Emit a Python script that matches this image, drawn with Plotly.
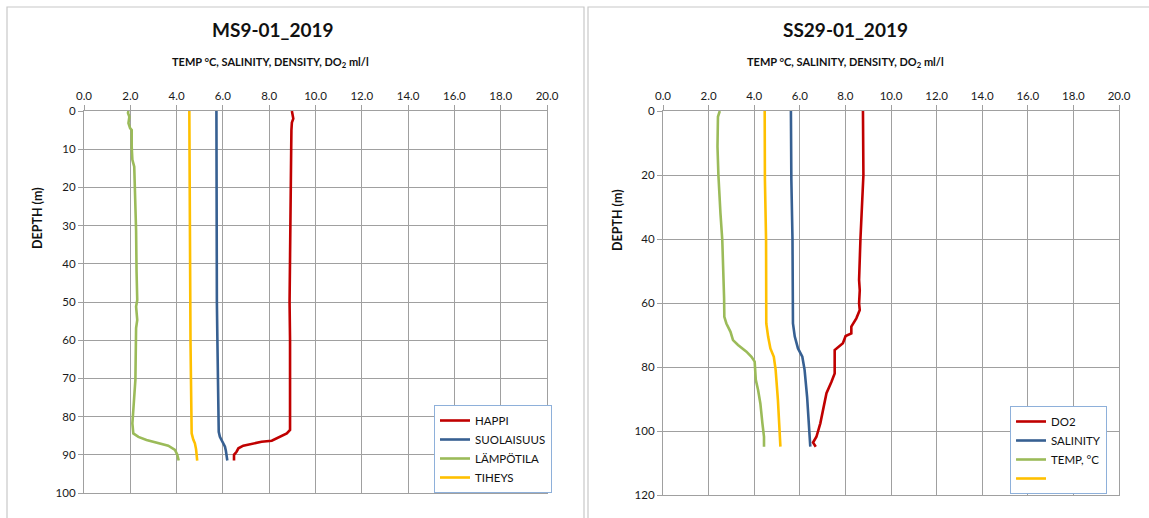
import plotly.graph_objects as go

# ---- MS9-01_2019 profile ----
ms9_happi_depth = [0, 1, 2, 3, 5, 10, 20, 30, 40, 50, 60, 70, 80, 83.5, 84.4, 85.7, 86.3, 86.6, 87.0, 87.6, 88.3, 89.2, 90.0, 91.5]
ms9_happi = [8.98, 9.02, 9.04, 8.98, 8.96, 8.95, 8.93, 8.92, 8.90, 8.88, 8.90, 8.89, 8.90, 8.90, 8.76, 8.32, 8.11, 7.67, 7.31, 6.88, 6.67, 6.59, 6.48, 6.48]

ms9_suola_depth = [0, 10, 20, 30, 40, 50, 59, 68, 78, 82, 84, 85.3, 86.5, 87.9, 89, 90, 91.5]
ms9_suola = [5.72, 5.72, 5.73, 5.73, 5.73, 5.74, 5.76, 5.77, 5.79, 5.80, 5.82, 5.87, 5.98, 6.09, 6.13, 6.16, 6.19]

ms9_lampo_depth = [0, 0.5, 1.5, 3.2, 4.5, 5, 9.3, 12.8, 14.6, 20.7, 31.2, 42, 49.5, 51.2, 54.7, 56.8, 61.7, 70.4, 78.3, 81.8, 84.4, 85.3, 86.1, 87, 87.6, 88.7, 90, 91.5]
ms9_lampo = [1.92, 1.90, 1.96, 1.92, 1.99, 2.06, 2.06, 2.09, 2.17, 2.20, 2.25, 2.27, 2.30, 2.25, 2.30, 2.25, 2.25, 2.22, 2.13, 2.09, 2.13, 2.35, 2.70, 3.28, 3.64, 3.93, 4.03, 4.09]

ms9_tiheys_depth = [0, 20, 40, 60, 70, 80, 84.4, 86, 87, 88.5, 90.5, 91.5]
ms9_tiheys = [4.55, 4.56, 4.58, 4.60, 4.62, 4.64, 4.65, 4.72, 4.79, 4.84, 4.89, 4.89]

# ---- SS29-01_2019 profile ----
ss29_do2_depth = [0, 20, 40, 52.8, 56, 60.1, 62.2, 64.8, 67.4, 69.5, 70.3, 72.6, 74.7, 82, 84.6, 88.2, 93.4, 97.6, 101.8, 103.6, 104.9]
ss29_do2 = [8.77, 8.79, 8.66, 8.60, 8.63, 8.60, 8.63, 8.48, 8.26, 8.26, 8.01, 7.89, 7.53, 7.53, 7.39, 7.17, 7.02, 6.90, 6.73, 6.58, 6.70]

ss29_sal_depth = [0, 21.6, 40.3, 58.5, 66.4, 70.5, 74.2, 76.8, 80.9, 89.3, 97.6, 104.9]
ss29_sal = [5.61, 5.63, 5.68, 5.70, 5.70, 5.78, 5.92, 6.11, 6.21, 6.32, 6.40, 6.46]

ss29_temp_depth = [0, 1.8, 11.2, 20, 32, 40.3, 58.5, 64.3, 66.4, 69, 71.6, 73.1, 75.2, 76.8, 78.3, 84, 87.2, 91.4, 97.6, 101.8, 104.9]
ss29_temp = [2.49, 2.41, 2.39, 2.43, 2.52, 2.60, 2.68, 2.69, 2.78, 2.96, 3.07, 3.29, 3.66, 3.88, 4.02, 4.07, 4.17, 4.27, 4.36, 4.43, 4.43]

ss29_dens_depth = [0, 21.6, 40.3, 58.5, 66.4, 70.5, 74.2, 76.8, 80.9, 90.3, 99.7, 104.9]
ss29_dens = [4.46, 4.47, 4.52, 4.53, 4.53, 4.61, 4.71, 4.86, 4.94, 5.04, 5.12, 5.15]

x_ticks = [0, 2, 4, 6, 8, 10, 12, 14, 16, 18, 20]

RED = "#C00000"
BLUE = "#376092"
GREEN = "#9BBB59"
YELLOW = "#FFC000"
GRID = "#A0A0A0"
FONT = "Lato"
W, H = 1149, 518

fig = go.Figure()

def add(x, y, name, color, xa, ya, legend):
    fig.add_trace(go.Scatter(
        x=x, y=y, name=name, mode="lines",
        line=dict(color=color, width=2.6),
        xaxis=xa, yaxis=ya, legend=legend,
    ))

add(ms9_happi, ms9_happi_depth, "HAPPI", RED, "x", "y", "legend")
add(ms9_suola, ms9_suola_depth, "SUOLAISUUS", BLUE, "x", "y", "legend")
add(ms9_lampo, ms9_lampo_depth, "LÄMPÖTILA", GREEN, "x", "y", "legend")
add(ms9_tiheys, ms9_tiheys_depth, "TIHEYS", YELLOW, "x", "y", "legend")

add(ss29_do2, ss29_do2_depth, "DO2", RED, "x2", "y2", "legend2")
add(ss29_sal, ss29_sal_depth, "SALINITY", BLUE, "x2", "y2", "legend2")
add(ss29_temp, ss29_temp_depth, "TEMP, °C", GREEN, "x2", "y2", "legend2")
add(ss29_dens, ss29_dens_depth, " ", YELLOW, "x2", "y2", "legend2")

def px(v):
    return v / W

def py(v):
    return 1 - v / H

tickfont = dict(family=FONT, size=11.5, color="#1a1a1a")

def xaxis(domain, anchor):
    return dict(
        domain=domain, anchor=anchor, side="top", range=[0, 20],
        tickvals=x_ticks, tickformat=".1f", tickfont=tickfont,
        showgrid=True, gridcolor=GRID, gridwidth=1.2,
        showline=True, linecolor=GRID, linewidth=1.2, mirror=True,
        ticks="outside", ticklen=5, tickcolor=GRID, zeroline=False,
        fixedrange=True, automargin=False,
    )

def yaxis(domain, anchor, rng, dtick):
    return dict(
        domain=domain, anchor=anchor, range=rng, dtick=dtick, tick0=0,
        tickfont=tickfont,
        showgrid=True, gridcolor=GRID, gridwidth=1.2,
        showline=True, linecolor=GRID, linewidth=1.2, mirror=True,
        ticks="outside", ticklen=5, tickcolor=GRID, zeroline=False,
        fixedrange=True, automargin=False,
    )

legend_style = dict(
    bgcolor="white", bordercolor="#8EB0DA", borderwidth=1,
    font=dict(family=FONT, size=11.5, color="#111"),
    xanchor="left", yanchor="top", tracegroupgap=0, itemwidth=30,
)

fig.update_layout(
    width=W, height=H, autosize=False,
    margin=dict(l=0, r=0, t=0, b=0, autoexpand=False),
    paper_bgcolor="white", plot_bgcolor="white",
    font=dict(family=FONT),
    xaxis=xaxis([px(84), px(547)], "y"),
    yaxis=yaxis([py(493), py(111)], "x", [100, 0], 10),
    xaxis2=xaxis([px(663), px(1119)], "y2"),
    yaxis2=yaxis([py(495), py(111)], "x2", [120, 0], 20),
    legend=dict(x=px(434), y=py(405), **legend_style),
    legend2=dict(x=px(1010), y=py(406), **legend_style),
    showlegend=True,
)

# chart frames
for x0, x1 in [(7, 584), (588, 1160)]:
    fig.add_shape(type="rect", xref="paper", yref="paper",
                  x0=px(x0), x1=px(x1), y0=py(530), y1=py(7),
                  line=dict(color="#C8C8C8", width=1.2), layer="below")

def text(x, y, s, size, angle=0):
    fig.add_annotation(xref="paper", yref="paper", x=px(x), y=py(y), text=s,
                       showarrow=False, textangle=angle,
                       font=dict(family=FONT, size=size, color="#111"),
                       xanchor="center", yanchor="middle")

subtitle = "<b>TEMP °C, SALINITY, DENSITY, DO<sub>2</sub> ml/l</b>"
text(272, 30, "<b>MS9-01_2019</b>", 19)
text(270, 63, subtitle, 11)
text(37, 218, "<b>DEPTH (m)</b>", 12.5, -90)

text(845, 30, "<b>SS29-01_2019</b>", 19)
text(845, 63, subtitle, 11)
text(617, 220, "<b>DEPTH (m)</b>", 12.5, -90)

fig.write_html("out.html")
